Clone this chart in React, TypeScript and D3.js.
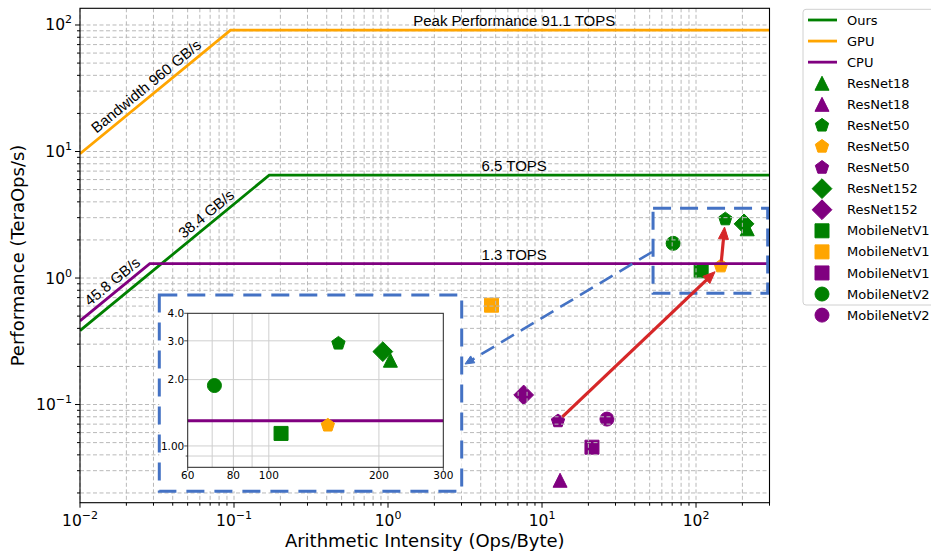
import React from 'react';
import * as d3 from 'd3';

// ---------------- data ----------------
const roofNames = ['Ours', 'GPU', 'CPU'];
const roofColors = ['green', 'orange', 'purple'];
const roofBandwidth = [38.4, 960, 45.8]; // GB/s
const roofPeak = [6.5, 91.1, 1.3]; // TOPS
const roofBwLabels = ['38.4 GB/s', 'Bandwidth 960 GB/s', '45.8 GB/s'];
const roofBwLabelX = [0.0726, 0.0296, 0.01782];
const roofPeakLabels = ['6.5 TOPS', 'Peak Performance 91.1 TOPS', '1.3 TOPS'];
const peakLabelX = 6.6;

const modelNames = ['ResNet18', 'ResNet18', 'ResNet50', 'ResNet50', 'ResNet50', 'ResNet152', 'ResNet152',
  'MobileNetV1', 'MobileNetV1', 'MobileNetV1', 'MobileNetV2', 'MobileNetV2'];
const modelColors = ['green', 'purple', 'green', 'orange', 'purple', 'green', 'purple',
  'green', 'orange', 'purple', 'green', 'purple'];
const modelShapes = ['triangle', 'triangle', 'pentagon', 'pentagon', 'pentagon', 'diamond', 'diamond',
  'square', 'square', 'square', 'circle', 'circle'];
const modelIntensity = [215, 13.1, 155, 145, 12.7, 205, 7.6, 108, 4.7, 21.1, 71, 26.4];
const modelPerformance = [2.45, 0.0252, 2.92, 1.24, 0.074, 2.68, 0.119, 1.14, 0.61, 0.046, 1.88, 0.0767];

// arrows: indices into model arrays (from -> to)
const arrowFrom = [4, 3];
const arrowTo = [3, 2];

const xMajorTicks = [0.01, 0.1, 1, 10, 100];
const xMajorExp = ['\u22122', '\u22121', '0', '1', '2'];
const yMajorTicks = [0.1, 1, 10, 100];
const yMajorExp = ['\u22121', '0', '1', '2'];

const insetXTicks = [60, 80, 100, 200, 300];
const insetXTickLabels = ['60', '80', '100', '200', '300'];
const insetXGrid = [70, 80, 90, 100, 200];
const insetYTicks = [1, 2, 3, 4];
const insetYTickLabels = ['1.00', '2.0', '3.0', '4.0'];
const insetYGrid = [0.9, 1, 2, 3];
const insetYMinor = [0.9];

// ---------------- layout ----------------
const W = 931, H = 555;
const PL = 80, PR = 769.5, PT = 8.3, PB = 502.7;
const X_DOMAIN: [number, number] = [0.01, 300];
const Y_DOMAIN: [number, number] = [Math.pow(10, -1.776), Math.pow(10, 2.132)];
const IN = { l: 187.7, r: 443.3, t: 313.3, b: 467.3 };
const IN_X: [number, number] = [60, 300];
const IN_Y: [number, number] = [0.8, 4.0];
const FRAME = { l: 159.3, r: 461.7, t: 295, b: 491.3 };
const ZOOM_BOX = { x0: 52.6, x1: 292, y0: 0.757, y1: 3.56 };
const BLUE = '#4472C4';
const RED = '#d62728';
const MS = 14;
const DV = 'DejaVu Sans, Verdana, sans-serif';
const LS = 'Liberation Sans, Arial, sans-serif';

function markerPath(shape: string, s: number): string {
  const h = s / 2;
  switch (shape) {
    case 'circle':
      return `M${h},0A${h},${h} 0 1,1 ${-h},0A${h},${h} 0 1,1 ${h},0Z`;
    case 'square':
      return `M${-h},${-h}H${h}V${h}H${-h}Z`;
    case 'diamond': {
      const r = s / Math.SQRT2;
      return `M0,${-r}L${r},0L0,${r}L${-r},0Z`;
    }
    case 'triangle':
      return `M0,${-h}L${h},${h}L${-h},${h}Z`;
    case 'pentagon': {
      const pts = d3.range(5).map((k) => {
        const a = (-90 + 72 * k) * Math.PI / 180;
        return `${(h * Math.cos(a)).toFixed(2)},${(h * Math.sin(a)).toFixed(2)}`;
      });
      return 'M' + pts.join('L') + 'Z';
    }
  }
  return '';
}

function shrinkSeg(x1: number, y1: number, x2: number, y2: number, s1: number, s2: number) {
  const dx = x2 - x1, dy = y2 - y1;
  const L = Math.hypot(dx, dy);
  const ux = dx / L, uy = dy / L;
  return [x1 + ux * s1, y1 + uy * s1, x2 - ux * s2, y2 - uy * s2];
}

function Arrow({ x1, y1, x2, y2, color, width, headL, headW, dash }: any) {
  const dx = x2 - x1, dy = y2 - y1;
  const L = Math.hypot(dx, dy);
  const ux = dx / L, uy = dy / L;
  const bx = x2 - ux * headL, by = y2 - uy * headL;
  const px = -uy, py = ux;
  const head = `M${x2},${y2}L${bx + px * headW / 2},${by + py * headW / 2}L${bx - px * headW / 2},${by - py * headW / 2}Z`;
  return (
    <g>
      <line x1={x1} y1={y1} x2={bx + ux * 1} y2={by + uy * 1} stroke={color} strokeWidth={width} strokeDasharray={dash} />
      <path d={head} fill={color} stroke={color} strokeWidth={1} />
    </g>
  );
}

function roofPoints(i: number, x0: number, x1: number) {
  const bw = roofBandwidth[i], pk = roofPeak[i];
  const ridge = pk / bw;
  return [[x0, bw * x0], [ridge, pk], [x1, pk]] as [number, number][];
}

export default function App() {
  const xs = d3.scaleLog().domain(X_DOMAIN).range([PL, PR]);
  const ys = d3.scaleLog().domain(Y_DOMAIN).range([PB, PT]);
  const ixs = d3.scaleLog().domain(IN_X).range([IN.l, IN.r]);
  const iys = d3.scaleLog().domain(IN_Y).range([IN.b, IN.t]);

  const xGrid = xs.ticks().filter((v) => v >= X_DOMAIN[0] * 0.999 && v <= X_DOMAIN[1] * 1.001);
  const yGrid = ys.ticks().filter((v) => v >= Y_DOMAIN[0] && v <= Y_DOMAIN[1]);

  const angle = Math.atan2(ys(10) - ys(1), xs(10) - xs(1)) * 180 / Math.PI;

  const line = d3.line<[number, number]>().x((d) => xs(d[0])).y((d) => ys(d[1]));
  const iline = d3.line<[number, number]>().x((d) => ixs(d[0])).y((d) => iys(d[1]));

  const idx = d3.range(modelNames.length);

  // legend
  const legX = 803, legY = 9.3, legRow = 21.08, legFirst = 20;
  const legendItems = [
    ...roofNames.map((n, i) => ({ type: 'line', label: n, color: roofColors[i], shape: '' })),
    ...idx.map((i) => ({ type: 'marker', label: modelNames[i], color: modelColors[i], shape: modelShapes[i] })),
  ];

  // blue dashed connector
  const conn = { x1: xs(ZOOM_BOX.x0) - 1, y1: 252, x2: 465, y2: 364 };

  return (
    <svg width={W} height={H} style={{ position: 'absolute', left: 0, top: 0, background: '#fff' }}>
      <defs>
        <clipPath id="plotClip"><rect x={PL} y={PT} width={PR - PL} height={PB - PT} /></clipPath>
        <clipPath id="insetClip"><rect x={IN.l} y={IN.t} width={IN.r - IN.l} height={IN.b - IN.t} /></clipPath>
      </defs>
      <rect x={0} y={0} width={W} height={H} fill="#fff" />

      {/* markers (drawn below grid) */}
      <g clipPath="url(#plotClip)">
        {idx.map((i) => (
          <path key={i} d={markerPath(modelShapes[i], MS)}
            transform={`translate(${xs(modelIntensity[i])},${ys(modelPerformance[i])})`}
            fill={modelColors[i]} stroke={modelColors[i]} strokeWidth={1} />
        ))}
      </g>

      {/* grid */}
      <g stroke="#b9b9b9" strokeWidth={1} strokeDasharray="4,2.5">
        {xGrid.map((v, i) => <line key={'gx' + i} x1={xs(v)} x2={xs(v)} y1={PT} y2={PB} />)}
        {yGrid.map((v, i) => <line key={'gy' + i} y1={ys(v)} y2={ys(v)} x1={PL} x2={PR} />)}
      </g>

      {/* rooflines */}
      <g clipPath="url(#plotClip)">
        {roofNames.map((n, i) => (
          <path key={n} d={line(roofPoints(i, X_DOMAIN[0], X_DOMAIN[1])) || ''} fill="none"
            stroke={roofColors[i]} strokeWidth={2.8} />
        ))}
      </g>

      {/* roofline labels */}
      <g fontFamily={LS} fontSize={15} fill="#000">
        {roofNames.map((n, i) => (
          <text key={'bw' + i} textAnchor="middle" dy={-5}
            transform={`translate(${xs(roofBwLabelX[i])},${ys(roofBwLabelX[i] * roofBandwidth[i])}) rotate(${angle})`}>
            {roofBwLabels[i]}
          </text>
        ))}
        {roofNames.map((n, i) => (
          <text key={'pk' + i} x={xs(peakLabelX)} y={ys(roofPeak[i]) - 3.8} textAnchor="middle">
            {roofPeakLabels[i]}
          </text>
        ))}
      </g>

      {/* zoom box */}
      <rect x={xs(ZOOM_BOX.x0)} y={ys(ZOOM_BOX.y1)} width={xs(ZOOM_BOX.x1) - xs(ZOOM_BOX.x0)}
        height={ys(ZOOM_BOX.y0) - ys(ZOOM_BOX.y1)} fill="none" stroke={BLUE} strokeWidth={3}
        strokeDasharray="18,9" />
      <Arrow x1={conn.x1} y1={conn.y1} x2={conn.x2} y2={conn.y2} color={BLUE} width={2.6} headL={9} headW={8} dash="15,8" />

      {/* red arrows */}
      {arrowFrom.map((f, k) => {
        const t = arrowTo[k];
        const [a, b, c, d] = shrinkSeg(xs(modelIntensity[f]), ys(modelPerformance[f]),
          xs(modelIntensity[t]), ys(modelPerformance[t]), k === 0 ? 6 : 4.5, 8);
        return <Arrow key={'ra' + k} x1={a} y1={b} x2={c} y2={d} color={RED} width={3.2} headL={12} headW={10} />;
      })}

      {/* axes spines */}
      <rect x={PL} y={PT} width={PR - PL} height={PB - PT} fill="none" stroke="#000" strokeWidth={1.1} />

      {/* ticks */}
      <g stroke="#000" strokeWidth={1}>
        {xGrid.map((v, i) => {
          const major = xMajorTicks.some((m) => Math.abs(m - v) / m < 1e-6);
          return <line key={'tx' + i} x1={xs(v)} x2={xs(v)} y1={PB} y2={PB + (major ? 5 : 3)} />;
        })}
        {yGrid.map((v, i) => {
          const major = yMajorTicks.some((m) => Math.abs(m - v) / m < 1e-6);
          return <line key={'ty' + i} y1={ys(v)} y2={ys(v)} x1={PL} x2={PL - (major ? 5 : 3)} />;
        })}
      </g>
      <g fontFamily={DV} fontSize={15.5} fill="#000">
        {xMajorTicks.map((v, i) => (
          <text key={'xl' + i} x={xs(v)} y={526} textAnchor="middle">
            10<tspan dy={-7} fontSize={11}>{xMajorExp[i]}</tspan>
          </text>
        ))}
        {yMajorTicks.map((v, i) => (
          <text key={'yl' + i} x={72} y={ys(v) + 5.5} textAnchor="end">
            10<tspan dy={-7} fontSize={11}>{yMajorExp[i]}</tspan>
          </text>
        ))}
      </g>
      <text x={(PL + PR) / 2} y={547} textAnchor="middle" fontFamily={DV} fontSize={18}>Arithmetic Intensity (Ops/Byte)</text>
      <text transform={`translate(24,${(PT + PB) / 2}) rotate(-90)`} textAnchor="middle" fontFamily={DV} fontSize={18}>Performance (TeraOps/s)</text>

      {/* inset */}
      <rect x={FRAME.l} y={FRAME.t} width={FRAME.r - FRAME.l} height={FRAME.b - FRAME.t} fill="#fff"
        stroke={BLUE} strokeWidth={3} strokeDasharray="18,10" />
      <g stroke="#cfcfcf" strokeWidth={1}>
        {insetXGrid.map((v, i) => <line key={'igx' + i} x1={ixs(v)} x2={ixs(v)} y1={IN.t} y2={IN.b} />)}
        {insetYGrid.map((v, i) => <line key={'igy' + i} y1={iys(v)} y2={iys(v)} x1={IN.l} x2={IN.r} />)}
      </g>
      <g clipPath="url(#insetClip)">
        {roofNames.map((n, i) => (
          <path key={'ir' + n} d={iline(roofPoints(i, IN_X[0], IN_X[1])) || ''} fill="none"
            stroke={roofColors[i]} strokeWidth={3} />
        ))}
        {idx.filter((i) => modelIntensity[i] >= IN_X[0] && modelIntensity[i] <= IN_X[1] &&
          modelPerformance[i] >= IN_Y[0] && modelPerformance[i] <= IN_Y[1]).map((i) => (
          <path key={'im' + i} d={markerPath(modelShapes[i], MS)}
            transform={`translate(${ixs(modelIntensity[i])},${iys(modelPerformance[i])})`}
            fill={modelColors[i]} stroke={modelColors[i]} strokeWidth={1} />
        ))}
      </g>
      <rect x={IN.l} y={IN.t} width={IN.r - IN.l} height={IN.b - IN.t} fill="none" stroke="#222" strokeWidth={1} />
      <g stroke="#222" strokeWidth={0.8}>
        {insetXTicks.map((v, i) => <line key={'itx' + i} x1={ixs(v)} x2={ixs(v)} y1={IN.b} y2={IN.b + 3.5} />)}
        {insetYTicks.map((v, i) => <line key={'ity' + i} y1={iys(v)} y2={iys(v)} x1={IN.l} x2={IN.l - 3.5} />)}
        {insetYMinor.map((v, i) => <line key={'itm' + i} y1={iys(v)} y2={iys(v)} x1={IN.l} x2={IN.l - 2} />)}
      </g>
      <g fontFamily={DV} fontSize={10.5} fill="#000">
        {insetXTicks.map((v, i) => (
          <text key={'ixl' + i} x={ixs(v)} y={479} textAnchor="middle">{insetXTickLabels[i]}</text>
        ))}
        {insetYTicks.map((v, i) => (
          <text key={'iyl' + i} x={184.3} y={iys(v) + 3.8} textAnchor="end">{insetYTickLabels[i]}</text>
        ))}
      </g>

      {/* legend */}
      <rect x={legX} y={legY} width={150} height={305 - legY} rx={3} fill="#fff" fillOpacity={0.9}
        stroke="#d0d0d0" strokeWidth={1} />
      <g fontFamily={DV} fontSize={13} fill="#000">
        {legendItems.map((it, k) => {
          const cy = legFirst + k * legRow;
          return (
            <g key={'lg' + k}>
              {it.type === 'line'
                ? <line x1={808} x2={837} y1={cy} y2={cy} stroke={it.color} strokeWidth={2.8} />
                : <path d={markerPath(it.shape, MS)} transform={`translate(822,${cy})`} fill={it.color}
                  stroke={it.color} strokeWidth={1} />}
              <text x={847} y={cy + 4.6}>{it.label}</text>
            </g>
          );
        })}
      </g>
    </svg>
  );
}
